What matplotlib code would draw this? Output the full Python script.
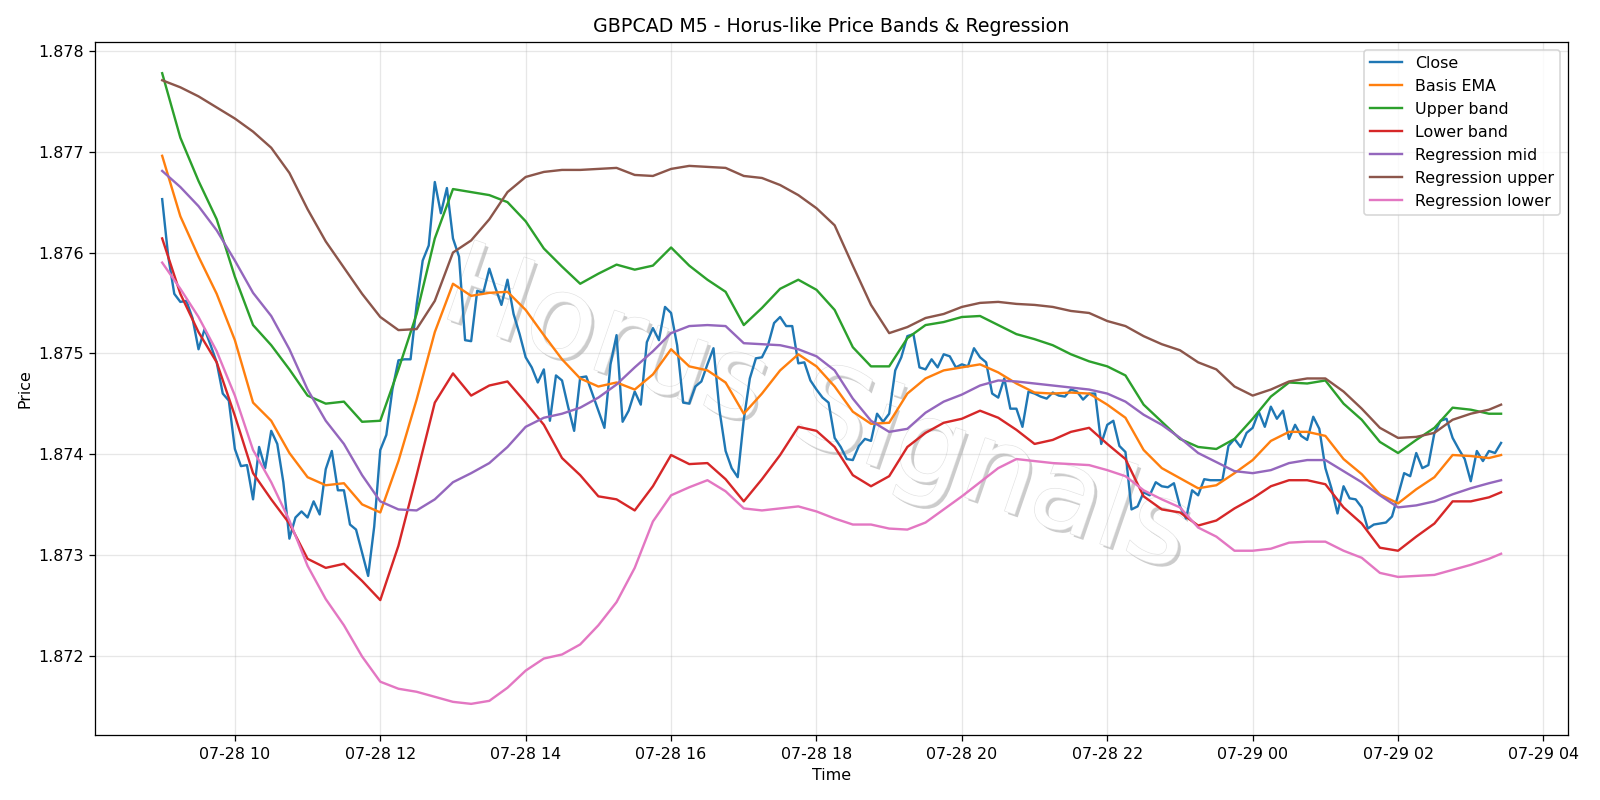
import pandas as pd
import matplotlib
matplotlib.use("Agg")
import matplotlib.pyplot as plt
import matplotlib.patheffects as pe

# 5-minute bars, 07-28 09:00 -> 07-29 03:25
start = "2025-07-28 09:00"
n_bars = 222

close = [
    1.87653, 1.87596, 1.87559, 1.87551, 1.87552, 1.87535, 1.87504, 1.87524, 1.87508, 1.87491,
    1.87460, 1.87453, 1.87405, 1.87388, 1.87389, 1.87355, 1.87407, 1.87386, 1.87423, 1.87410,
    1.87372, 1.87316, 1.87337, 1.87343, 1.87337, 1.87353, 1.87340, 1.87385, 1.87403, 1.87364,
    1.87364, 1.87330, 1.87325, 1.87302, 1.87279, 1.87328, 1.87404, 1.87419, 1.87464, 1.87493,
    1.87494, 1.87494, 1.87548, 1.87592, 1.87607, 1.87670, 1.87639, 1.87664, 1.87614, 1.87596,
    1.87513, 1.87512, 1.87562, 1.87560, 1.87584, 1.87565, 1.87548, 1.87573, 1.87539, 1.87519,
    1.87496, 1.87486, 1.87471, 1.87484, 1.87433, 1.87478, 1.87473, 1.87447, 1.87423, 1.87476,
    1.87477, 1.87460, 1.87443, 1.87426, 1.87489, 1.87518, 1.87432, 1.87443, 1.87462, 1.87449,
    1.87511, 1.87525, 1.87513, 1.87546, 1.87540, 1.87508, 1.87451, 1.87450, 1.87467, 1.87472,
    1.87489, 1.87505, 1.87443, 1.87403, 1.87386, 1.87377, 1.87434, 1.87475, 1.87495, 1.87496,
    1.87508, 1.87530, 1.87536, 1.87527, 1.87527, 1.87490, 1.87491, 1.87473, 1.87464, 1.87456,
    1.87451, 1.87416, 1.87407, 1.87395, 1.87394, 1.87408, 1.87415, 1.87413, 1.87440, 1.87432,
    1.87440, 1.87483, 1.87496, 1.87517, 1.87519, 1.87486, 1.87484, 1.87494, 1.87486, 1.87499,
    1.87497, 1.87486, 1.87489, 1.87487, 1.87505, 1.87496, 1.87491, 1.87460, 1.87456, 1.87475,
    1.87445, 1.87445, 1.87427, 1.87462, 1.87460, 1.87457, 1.87455, 1.87461, 1.87458, 1.87457,
    1.87464, 1.87462, 1.87454, 1.87460, 1.87460, 1.87410, 1.87429, 1.87433, 1.87408, 1.87402,
    1.87345, 1.87348, 1.87362, 1.87359, 1.87372, 1.87368, 1.87367, 1.87371, 1.87348, 1.87336,
    1.87364, 1.87359, 1.87375, 1.87374, 1.87374, 1.87374, 1.87408, 1.87415, 1.87407, 1.87421,
    1.87426, 1.87442, 1.87427, 1.87447, 1.87435, 1.87443, 1.87415, 1.87429, 1.87418, 1.87414,
    1.87437, 1.87425, 1.87386, 1.87366, 1.87341, 1.87368, 1.87356, 1.87355, 1.87347, 1.87326,
    1.87330, 1.87331, 1.87332, 1.87338, 1.87359, 1.87381, 1.87378, 1.87401, 1.87386, 1.87389,
    1.87421, 1.87433, 1.87435, 1.87416, 1.87405, 1.87395, 1.87373, 1.87403, 1.87393, 1.87403,
    1.87401, 1.87411,
]

# the smooth lines are read every 15 minutes (bar index 0, 3, ... 219, then the last bar)
band_idx = list(range(0, 220, 3)) + [221]

basis_ema = [
    1.87696, 1.87636, 1.87596, 1.87559, 1.87513, 1.87451, 1.87433, 1.87401, 1.87377, 1.87369,
    1.87371, 1.87350, 1.87342, 1.87393, 1.87454, 1.87521, 1.87569, 1.87557, 1.87560, 1.87561,
    1.87543, 1.87518, 1.87494, 1.87475, 1.87467, 1.87471, 1.87464, 1.87479, 1.87504, 1.87487,
    1.87483, 1.87471, 1.87440, 1.87460, 1.87483, 1.87499, 1.87487, 1.87467, 1.87442, 1.87430,
    1.87431, 1.87460, 1.87475, 1.87483, 1.87486, 1.87489, 1.87481, 1.87470, 1.87461, 1.87460,
    1.87461, 1.87460, 1.87449, 1.87436, 1.87404, 1.87386, 1.87376, 1.87366, 1.87369, 1.87381,
    1.87394, 1.87413, 1.87422, 1.87422, 1.87418, 1.87395, 1.87380, 1.87360, 1.87351, 1.87365,
    1.87377, 1.87399, 1.87398, 1.87396, 1.87399,
]

upper_band = [
    1.87778, 1.87714, 1.87671, 1.87633, 1.87576, 1.87528, 1.87508, 1.87484, 1.87458, 1.87450,
    1.87452, 1.87432, 1.87433, 1.87484, 1.87539, 1.87614, 1.87663, 1.87660, 1.87657, 1.87650,
    1.87631, 1.87604, 1.87586, 1.87569, 1.87579, 1.87588, 1.87583, 1.87587, 1.87605, 1.87587,
    1.87573, 1.87561, 1.87528, 1.87545, 1.87564, 1.87573, 1.87563, 1.87543, 1.87506, 1.87487,
    1.87487, 1.87515, 1.87528, 1.87531, 1.87536, 1.87537, 1.87528, 1.87519, 1.87514, 1.87508,
    1.87499, 1.87492, 1.87487, 1.87478, 1.87449, 1.87432, 1.87415, 1.87407, 1.87405, 1.87415,
    1.87435, 1.87457, 1.87471, 1.87470, 1.87473, 1.87450, 1.87434, 1.87412, 1.87401, 1.87414,
    1.87426, 1.87446, 1.87444, 1.87440, 1.87440,
]

lower_band = [
    1.87614, 1.87559, 1.87521, 1.87491, 1.87438, 1.87381, 1.87355, 1.87331, 1.87296, 1.87287,
    1.87291, 1.87274, 1.87255, 1.87309, 1.87379, 1.87451, 1.87480, 1.87458, 1.87468, 1.87472,
    1.87451, 1.87429, 1.87396, 1.87379, 1.87358, 1.87355, 1.87344, 1.87368, 1.87399, 1.87390,
    1.87391, 1.87375, 1.87353, 1.87375, 1.87399, 1.87427, 1.87423, 1.87407, 1.87379, 1.87368,
    1.87378, 1.87407, 1.87421, 1.87431, 1.87435, 1.87443, 1.87436, 1.87424, 1.87410, 1.87414,
    1.87422, 1.87426, 1.87410, 1.87395, 1.87358, 1.87345, 1.87342, 1.87329, 1.87334, 1.87346,
    1.87356, 1.87368, 1.87374, 1.87374, 1.87370, 1.87347, 1.87331, 1.87307, 1.87304, 1.87318,
    1.87331, 1.87353, 1.87353, 1.87357, 1.87362,
]

reg_mid = [
    1.87681, 1.87665, 1.87646, 1.87622, 1.87592, 1.87560, 1.87537, 1.87504, 1.87464, 1.87433,
    1.87410, 1.87379, 1.87353, 1.87345, 1.87344, 1.87355, 1.87372, 1.87381, 1.87391, 1.87407,
    1.87427, 1.87436, 1.87440, 1.87446, 1.87456, 1.87469, 1.87486, 1.87502, 1.87520, 1.87527,
    1.87528, 1.87527, 1.87510, 1.87509, 1.87508, 1.87504, 1.87497, 1.87483, 1.87455, 1.87433,
    1.87422, 1.87425, 1.87441, 1.87452, 1.87459, 1.87468, 1.87473, 1.87472, 1.87470, 1.87468,
    1.87466, 1.87464, 1.87460, 1.87452, 1.87439, 1.87429, 1.87416, 1.87401, 1.87392, 1.87383,
    1.87381, 1.87384, 1.87391, 1.87394, 1.87394, 1.87383, 1.87372, 1.87359, 1.87347, 1.87349,
    1.87353, 1.87360, 1.87366, 1.87371, 1.87374,
]

reg_upper = [
    1.87771, 1.87764, 1.87755, 1.87744, 1.87733, 1.87720, 1.87704, 1.87679, 1.87643, 1.87611,
    1.87585, 1.87559, 1.87536, 1.87523, 1.87524, 1.87552, 1.87600, 1.87612, 1.87633, 1.87660,
    1.87675, 1.87680, 1.87682, 1.87682, 1.87683, 1.87684, 1.87677, 1.87676, 1.87683, 1.87686,
    1.87685, 1.87684, 1.87676, 1.87674, 1.87667, 1.87657, 1.87644, 1.87627, 1.87587, 1.87548,
    1.87520, 1.87526, 1.87535, 1.87539, 1.87546, 1.87550, 1.87551, 1.87549, 1.87548, 1.87546,
    1.87542, 1.87540, 1.87532, 1.87527, 1.87517, 1.87509, 1.87503, 1.87491, 1.87484, 1.87467,
    1.87458, 1.87464, 1.87472, 1.87475, 1.87475, 1.87462, 1.87445, 1.87426, 1.87416, 1.87417,
    1.87421, 1.87434, 1.87440, 1.87444, 1.87449,
]

reg_lower = [
    1.87590, 1.87564, 1.87536, 1.87502, 1.87458, 1.87404, 1.87372, 1.87334, 1.87289, 1.87256,
    1.87230, 1.87199, 1.87174, 1.87167, 1.87164, 1.87159, 1.87154, 1.87152, 1.87155, 1.87168,
    1.87185, 1.87197, 1.87201, 1.87211, 1.87230, 1.87253, 1.87287, 1.87333, 1.87359, 1.87367,
    1.87374, 1.87363, 1.87346, 1.87344, 1.87346, 1.87348, 1.87343, 1.87336, 1.87330, 1.87330,
    1.87326, 1.87325, 1.87332, 1.87345, 1.87358, 1.87372, 1.87386, 1.87395, 1.87393, 1.87391,
    1.87390, 1.87389, 1.87384, 1.87378, 1.87364, 1.87355, 1.87347, 1.87327, 1.87318, 1.87304,
    1.87304, 1.87306, 1.87312, 1.87313, 1.87313, 1.87304, 1.87297, 1.87282, 1.87278, 1.87279,
    1.87280, 1.87285, 1.87290, 1.87296, 1.87301,
]

times = pd.date_range(start, periods=n_bars, freq="5min")
band_times = times[band_idx]

fig, ax = plt.subplots(figsize=(14, 7), dpi=800 / 7)

ax.plot(times, close, label="Close")
ax.plot(band_times, basis_ema, label="Basis EMA")
ax.plot(band_times, upper_band, label="Upper band")
ax.plot(band_times, lower_band, label="Lower band")
ax.plot(band_times, reg_mid, label="Regression mid")
ax.plot(band_times, reg_upper, label="Regression upper")
ax.plot(band_times, reg_lower, label="Regression lower")

# watermark: white letters with a thin grey drop shadow, under grid and lines
ax.text(0.49, 0.465, "Horus Signals", transform=ax.transAxes,
        rotation=-19, ha="center", va="center", fontsize=72,
        color="white", zorder=0.5,
        path_effects=[pe.withSimplePatchShadow(offset=(2, -2), shadow_rgbFace="#808080", alpha=0.4),
                      pe.Stroke(linewidth=0.8, foreground="#e2e2e2"),
                      pe.Normal()])

ax.set_title("GBPCAD M5 - Horus-like Price Bands & Regression")
ax.set_xlabel("Time")
ax.set_ylabel("Price")
ax.grid(True, alpha=0.3)
ax.legend(loc="upper right")

plt.tight_layout()
plt.savefig("out.png")
